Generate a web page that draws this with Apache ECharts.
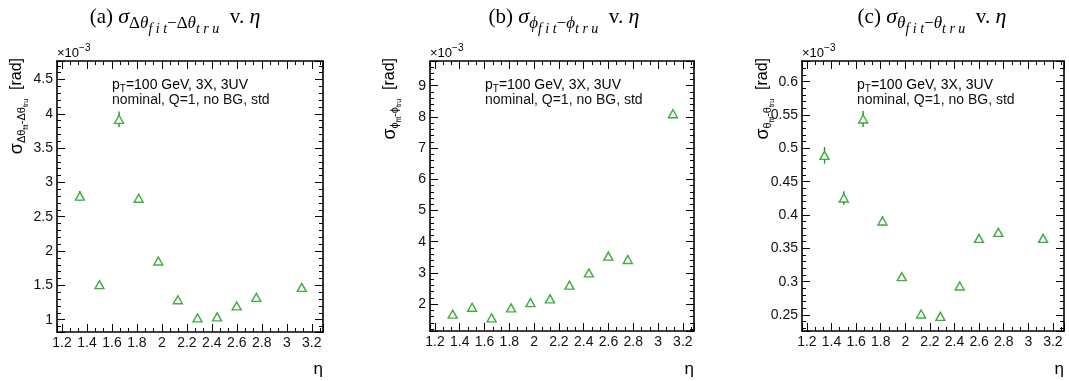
<!DOCTYPE html>
<html>
<head>
<meta charset="utf-8">
<script src="https://cdn.jsdelivr.net/npm/echarts@6/dist/echarts.min.js"></script>
<style>
  html, body { margin: 0; padding: 0; background: #fff; }
  #chart { width: 1069px; height: 381px; }
</style>
</head>
<body>
<div id="chart"></div>
<script>
// eta bin centres shared by the three resolution scans
const eta = [1.343, 1.500, 1.657, 1.814, 1.971, 2.128, 2.285, 2.442, 2.599, 2.756, 3.12];

// sigma(dTheta_fit - dTheta_tru) [x1e-3 rad] and its uncertainty
const sigDTheta = [2.80, 1.51, 3.92, 2.77, 1.855, 1.29, 1.025, 1.04, 1.20, 1.325, 1.47];
const errDTheta = [0.075, 0.03, 0.115, 0.06, 0.04, 0.025, 0.02, 0.02, 0.025, 0.025, 0.03];

// sigma(phi_fit - phi_tru) [x1e-3 rad]
const sigPhi = [1.68, 1.90, 1.56, 1.88, 2.05, 2.17, 2.61, 3.00, 3.54, 3.43, 8.10];
const errPhi = [0.04, 0.05, 0.04, 0.05, 0.05, 0.05, 0.06, 0.07, 0.08, 0.08, 0.12];

// sigma(theta_fit - theta_tru) [x1e-3 rad]
const sigTheta = [0.4895, 0.4255, 0.544, 0.391, 0.3075, 0.2515, 0.248, 0.2935, 0.365, 0.374, 0.365];
const errTheta = [0.0125, 0.010, 0.012, 0.007, 0.006, 0.004, 0.004, 0.004, 0.005, 0.006, 0.004];

// axis ranges and major steps
const etaRange = [1.16, 3.29];
const etaStep = 0.2;
const yRanges = [[0.82, 4.77], [1.14, 9.79], [0.226, 0.631]];
const ySteps = [0.5, 1, 0.05];

const GREEN = '#0f9a0f';
const SANS = 'Liberation Sans';
const SERIF = 'Liberation Serif';

const panels = [
  { left: 57,  top: 61, width: 266, height: 271 },
  { left: 430, top: 61, width: 264, height: 270 },
  { left: 802, top: 61, width: 262, height: 270 }
];

const tickLine = { color: '#000', width: 1 };
const frameLine = { color: '#000', width: 1.6 };

function xAxesFor(g) {
  const base = {
    type: 'value', gridIndex: g, min: etaRange[0], max: etaRange[1],
    minInterval: etaStep, maxInterval: etaStep,
    axisLine: { show: true, onZero: false, lineStyle: frameLine },
    axisTick: { show: true, inside: true, length: 8, lineStyle: tickLine },
    minorTick: { show: true, splitNumber: 3, length: 4, lineStyle: tickLine },
    splitLine: { show: false }, minorSplitLine: { show: false }
  };
  return [
    Object.assign({}, base, { position: 'bottom',
      axisLabel: { show: true, color: '#111', fontFamily: SANS, fontSize: 14, margin: 4,
                   showMinLabel: false, showMaxLabel: false } }),
    Object.assign({}, base, { position: 'top', axisLabel: { show: false } })
  ];
}

function yAxesFor(g) {
  const base = {
    type: 'value', gridIndex: g, min: yRanges[g][0], max: yRanges[g][1],
    minInterval: ySteps[g], maxInterval: ySteps[g],
    axisLine: { show: true, onZero: false, lineStyle: frameLine },
    axisTick: { show: true, inside: true, length: 8, lineStyle: tickLine },
    minorTick: { show: true, splitNumber: 5, length: 4, lineStyle: tickLine },
    splitLine: { show: false }, minorSplitLine: { show: false }
  };
  return [
    Object.assign({}, base, { position: 'left',
      axisLabel: { show: true, color: '#111', fontFamily: SANS, fontSize: 14, margin: 4,
                   showMinLabel: false, showMaxLabel: false } }),
    Object.assign({}, base, { position: 'right', axisLabel: { show: false } })
  ];
}

function markerSeries(g, ys) {
  return {
    type: 'scatter', xAxisIndex: 2 * g, yAxisIndex: 2 * g, z: 3,
    data: eta.map((x, i) => [x, ys[i]]),
    symbol: 'triangle', symbolSize: [9, 8],
    itemStyle: { color: 'rgba(255,255,255,0)', borderColor: GREEN, borderWidth: 1.4 },
    silent: true
  };
}

function errorSeries(g, ys, es) {
  return {
    type: 'custom', xAxisIndex: 2 * g, yAxisIndex: 2 * g, z: 2, silent: true,
    data: eta.map((x, i) => [x, ys[i], es[i]]),
    encode: { x: 0, y: 1 },
    renderItem(params, api) {
      const x = api.value(0), y = api.value(1), e = api.value(2);
      const c = api.coord([x, y]);
      const hi = api.coord([x, y + e]);
      const lo = api.coord([x, y - e]);
      const gap = 4;
      const kids = [];
      const st = { stroke: GREEN, lineWidth: 1.3 };
      if (c[1] - hi[1] > gap) kids.push({ type: 'line', shape: { x1: c[0], y1: hi[1], x2: c[0], y2: c[1] - gap }, style: st });
      if (lo[1] - c[1] > gap) kids.push({ type: 'line', shape: { x1: c[0], y1: c[1] + gap, x2: c[0], y2: lo[1] }, style: st });
      return { type: 'group', children: kids };
    }
  };
}

// rich styles for the serif panel titles
const titleRich = {
  n:  { fontFamily: SERIF, fontSize: 21, color: '#000' },
  g:  { fontFamily: SERIF, fontSize: 22, fontStyle: 'italic', color: '#000' },
  d:  { fontFamily: SERIF, fontSize: 17, color: '#000', padding: [14, 0, 0, 0] },
  s:  { fontFamily: SERIF, fontSize: 17, fontStyle: 'italic', color: '#000', padding: [14, 0, 0, 0] },
  ss: { fontFamily: SERIF, fontSize: 14, fontStyle: 'italic', color: '#000', padding: [24, 0, 0, 0] }
};

// rich styles for the rotated sans y-axis titles
const yRich = {
  g:  { fontFamily: SANS, fontSize: 18, color: '#000' },
  s:  { fontFamily: SANS, fontSize: 11, color: '#000', padding: [10, 0, 0, 0] },
  ss: { fontFamily: SANS, fontSize: 7, color: '#000', padding: [18, 0, 0, 0] },
  n:  { fontFamily: SANS, fontSize: 16, color: '#000' }
};

const expRich = {
  a: { fontFamily: SANS, fontSize: 13, color: '#333' },
  b: { fontFamily: SANS, fontSize: 10, color: '#333', padding: [0, 0, 9, 0] }
};

const annRich = {
  a: { fontFamily: SANS, fontSize: 14, color: '#111' },
  b: { fontFamily: SANS, fontSize: 10, color: '#111', padding: [9, 0, 0, 0] }
};

const titles = [
  '{n|(a) }{g|σ}{d|Δ}{s|θ}{ss|f i t}{d|−Δ}{s|θ}{ss|t r u}{n|  v. }{g|η}',
  '{n|(b) }{g|σ}{s|ϕ}{ss|f i t}{d|−}{s|ϕ}{ss|t r u}{n|  v. }{g|η}',
  '{n|(c) }{g|σ}{s|θ}{ss|f i t}{d|−}{s|θ}{ss|t r u}{n|  v. }{g|η}'
];
const titleX = [175, 564, 932];

const yTitles = [
  '{g|σ}{s|Δθ}{ss|fit}{s|-Δθ}{ss|tru}{n|  [rad]}',
  '{g|σ}{s|ϕ}{ss|fit}{s|-ϕ}{ss|tru}{n|  [rad]}',
  '{g|σ}{s|θ}{ss|fit}{s|-θ}{ss|tru}{n|  [rad]}'
];
const yTitleX = [17, 390, 763];

const graphic = [];
panels.forEach((p, g) => {
  graphic.push({ type: 'text', x: titleX[g], y: 17, silent: true,
    style: { text: titles[g], rich: titleRich, align: 'center', verticalAlign: 'middle' } });
  graphic.push({ type: 'text', x: yTitleX[g], y: 58, rotation: Math.PI / 2, silent: true,
    style: { text: yTitles[g], rich: yRich, align: 'right', verticalAlign: 'middle' } });
  graphic.push({ type: 'text', x: p.left, y: 53, silent: true,
    style: { text: '{a|×10}{b|−3}', rich: expRich, align: 'left', verticalAlign: 'middle' } });
  graphic.push({ type: 'text', x: p.left + 55, y: 85, silent: true,
    style: { text: '{a|p}{b|T}{a|=100 GeV, 3X, 3UV}', rich: annRich, align: 'left', verticalAlign: 'middle' } });
  graphic.push({ type: 'text', x: p.left + 55, y: 100, silent: true,
    style: { text: 'nominal, Q=1, no BG, std', fontFamily: SANS, fontSize: 14, fill: '#111',
             align: 'left', verticalAlign: 'middle' } });
  graphic.push({ type: 'text', x: p.left + p.width, y: 369, silent: true,
    style: { text: 'η', fontFamily: SANS, fontSize: 17, fill: '#000', align: 'right', verticalAlign: 'middle' } });
});

const option = {
  animation: false,
  backgroundColor: '#fff',
  grid: panels.map(p => Object.assign({ containLabel: false, outerBoundsMode: 'none' }, p)),
  xAxis: [].concat(xAxesFor(0), xAxesFor(1), xAxesFor(2)),
  yAxis: [].concat(yAxesFor(0), yAxesFor(1), yAxesFor(2)),
  series: [
    errorSeries(0, sigDTheta, errDTheta), markerSeries(0, sigDTheta),
    errorSeries(1, sigPhi, errPhi),       markerSeries(1, sigPhi),
    errorSeries(2, sigTheta, errTheta),   markerSeries(2, sigTheta)
  ],
  graphic: graphic
};

const chart = echarts.init(document.getElementById('chart'), null, { renderer: 'canvas' });
chart.setOption(option);
</script>
</body>
</html>
